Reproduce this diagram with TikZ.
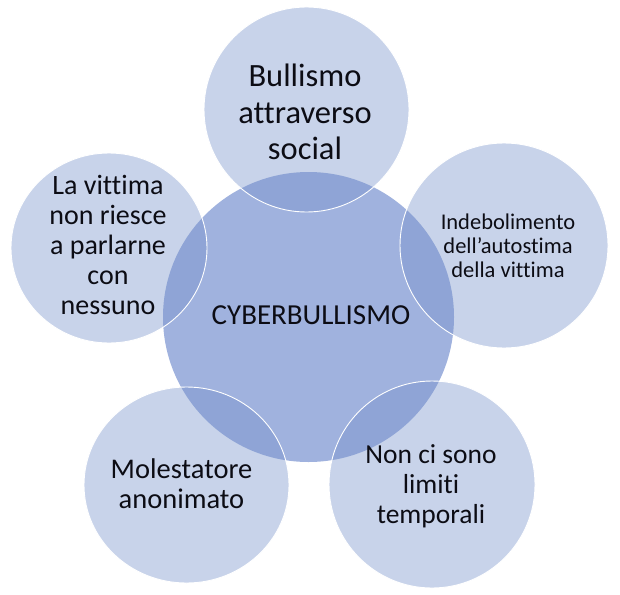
\documentclass[tikz,border=0pt]{standalone}
\usepackage{fontspec}
\setmainfont{Carlito}[Ligatures={NoCommon,NoRare,NoContextual}]
\usetikzlibrary{shapes.geometric}
\definecolor{outerfill}{RGB}{118,145,202}
\definecolor{centerfill}{RGB}{160,178,222}
\definecolor{txt}{RGB}{12,12,20}
\begin{document}
\begin{tikzpicture}[x=1pt,y=-1pt,
  bubble/.style={ellipse, draw=white, line width=0.9pt, fill=outerfill, fill opacity=0.4, inner sep=0pt},
  hub/.style={ellipse, fill=centerfill, inner sep=0pt},
  btext/.style={align=center, text=txt, inner sep=0pt}]
\useasboundingbox (0,0) rectangle (620,594);
\node[hub, minimum width=291pt, minimum height=290pt] (hub) at (308.5,317) {};
\node[bubble, minimum width=205pt, minimum height=205pt] (top) at (306.5,109.5) {};
\node[bubble, minimum width=208pt, minimum height=205pt] (right) at (504,245.5) {};
\node[bubble, minimum width=206pt, minimum height=207pt] (br) at (432,484.5) {};
\node[bubble, minimum width=205pt, minimum height=196pt] (bl) at (186.5,485) {};
\node[bubble, minimum width=196pt, minimum height=190pt] (left) at (109,248) {};
\node[btext, font={\fontsize{29}{34}\selectfont}] (thub) at (311,315) {CYBERBULLISMO};
\node[btext, font={\fontsize{32.5}{36.5}\selectfont}] (ttop) at (305,112) {Bullismo\\attraverso\\social};
\node[btext, font={\fontsize{22.5}{24}\selectfont}] (tright) at (508,246) {Indebolimento\\dell’autostima\\della vittima};
\node[btext, font={\fontsize{27.5}{30}\selectfont}] (tbr) at (431,486) {Non ci sono\\limiti\\temporali};
\node[btext, font={\fontsize{28.5}{30}\selectfont}] (tbl) at (181.5,483.5) {Molestatore\\anonimato};
\node[btext, font={\fontsize{28}{30}\selectfont}] (tleft) at (108,245) {La vittima\\non riesce\\a parlarne\\con\\nessuno};
\end{tikzpicture}
\end{document}
